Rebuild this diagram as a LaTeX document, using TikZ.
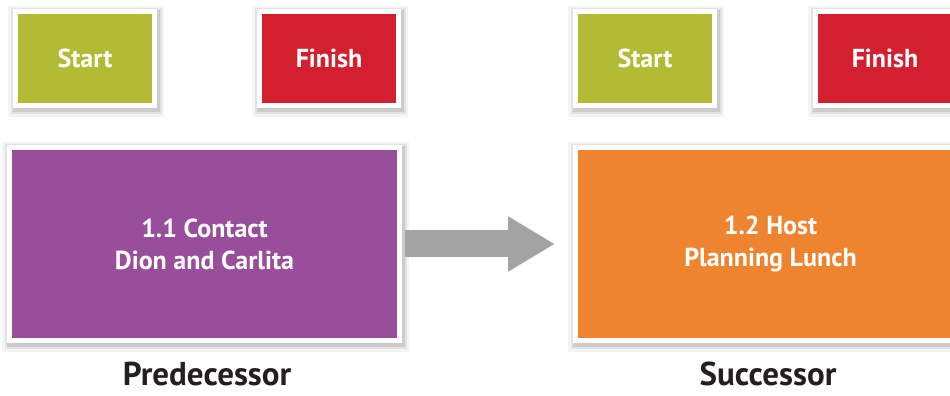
\documentclass[tikz,border=0pt]{standalone}
\usepackage{fontspec}
\setmainfont{PT Sans}
\usetikzlibrary{shadows,arrows.meta}
\definecolor{cgreen}{HTML}{B3BA33}
\definecolor{cred}{HTML}{D4202E}
\definecolor{cpurple}{HTML}{994E9C}
\definecolor{corange}{HTML}{EE842F}
\definecolor{carrow}{HTML}{A3A3A3}
\definecolor{ctext}{HTML}{231F20}
\tikzset{
  softshadow/.style={
    general shadow={shadow xshift=1pt, shadow yshift=-3pt, draw=black, line width=17pt, opacity=0.045, fill=none},
    general shadow={shadow xshift=1pt, shadow yshift=-3pt, draw=black, line width=12pt, opacity=0.07, fill=none},
    general shadow={shadow xshift=1pt, shadow yshift=-3pt, draw=black, line width=8pt, opacity=0.1, fill=none}},
  box/.style={softshadow, draw=white, line width=5pt, text=white, font=\bfseries\fontsize{26}{32}\selectfont,
    align=center, inner sep=0pt},
  smallbox/.style={box, minimum width=139pt, minimum height=94pt},
  bigbox/.style={box, minimum width=390pt, minimum height=193pt},
  caption/.style={text=ctext, anchor=base, inner sep=0pt, font=\bfseries\fontsize{33}{40}\selectfont},
  bigarrow/.style={draw=carrow, line width=27pt, -{Triangle[width=52pt,length=47pt]}}
}
\begin{document}
\begin{tikzpicture}[x=1pt,y=1pt]
\useasboundingbox (0,0) rectangle (950,396);
\clip (0,0) rectangle (950,396);
\node[smallbox, fill=cgreen] (s1) at (85,337.5) {Start};
\node[smallbox, fill=cred] (f1) at (329,337.5) {Finish};
\node[smallbox, fill=cgreen] (s2) at (645,337.5) {Start};
\node[smallbox, fill=cred] (f2) at (885,337.5) {Finish};
\node[bigbox, fill=cpurple] (p) at (204.5,152) {1.1 Contact\\Dion and Carlita};
\node[bigbox, fill=corange] (o) at (770.5,152) {1.2 Host\\Planning Lunch};
\draw[bigarrow] ([xshift=2.5pt]p.east) -- ([xshift=-18pt]o.west);
\node[caption] (lp) at (207,10) {Predecessor};
\node[caption] (lo) at (768,10) {Successor};
\end{tikzpicture}
\end{document}
